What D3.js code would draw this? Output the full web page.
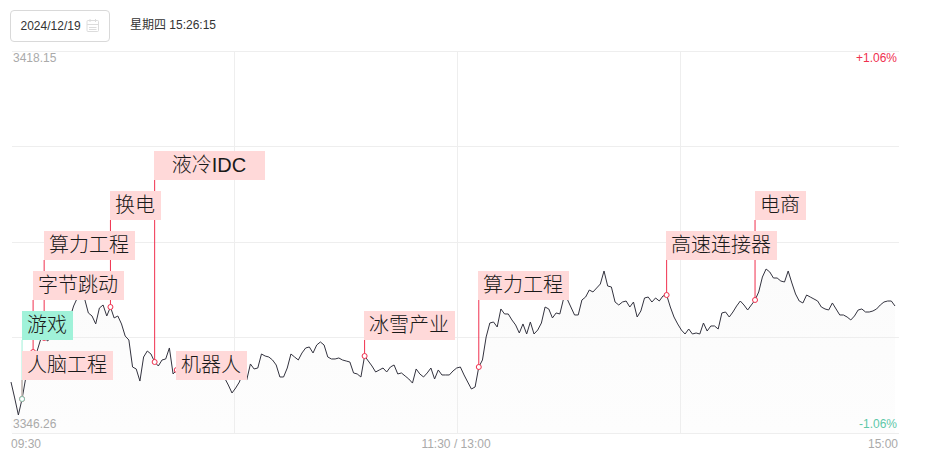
<!DOCTYPE html>
<html>
<head>
<meta charset="utf-8">
<script src="https://cdn.jsdelivr.net/npm/d3@7"></script>
<style>
html,body{margin:0;padding:0;background:#fff;overflow:hidden}
svg{display:block}
text{font-family:"Liberation Sans",Arial,"Noto Sans CJK SC",sans-serif}
</style>
</head>
<body>
<svg id="c" width="926" height="470"></svg>
<script>
const prices = [
3355.85,3352.85,3349.65,3352.66,3356.61,3359.62,3361.50,3361.50,3363.76,3364.14,
3363.57,3365.26,3364.70,3366.02,3366.59,3367.15,3367.91,3370.16,3371.67,3371.67,
3371.48,3368.85,3368.28,3366.78,3369.78,3370.35,3368.28,3369.97,3367.91,3368.28,
3366.78,3364.51,3363.76,3358.68,3358.31,3356.04,3360.56,3361.69,3361.13,3359.62,
3358.87,3360.00,3360.19,3362.26,3357.37,3358.12,3358.87,3359.62,3360.00,3360.38,
3359.81,3360.38,3359.62,3359.06,3359.25,3359.62,3358.87,3358.12,3356.61,3355.29,
3353.79,3354.73,3355.85,3357.74,3356.23,3359.25,3358.31,3358.49,3361.13,3360.75,
3360.56,3360.00,3359.06,3356.80,3356.80,3358.49,3361.13,3360.56,3360.00,3361.32,
3362.26,3362.45,3361.32,3362.82,3363.39,3362.82,3360.56,3360.19,3360.19,3360.38,
3360.00,3359.81,3359.62,3357.56,3357.37,3356.80,3360.75,3359.81,3358.87,3357.74,
3358.12,3358.49,3357.74,3358.68,3359.06,3357.37,3357.56,3356.99,3356.42,3355.66,
3358.31,3357.37,3356.80,3357.56,3358.49,3356.42,3358.12,3357.18,3357.18,3357.18,
3357.93,3358.49,3358.68,3357.18,3355.85,3354.54,3354.92,3358.68,3360.00,3364.33,
3366.96,3367.15,3366.21,3369.60,3368.66,3368.66,3367.53,3366.59,3365.08,3366.78,
3364.89,3367.15,3364.89,3365.64,3366.96,3369.97,3369.60,3367.91,3368.85,3368.66,
3371.48,3371.48,3369.97,3368.47,3368.47,3371.29,3371.85,3373.17,3372.80,3373.55,
3374.30,3376.75,3373.92,3373.74,3370.91,3370.35,3370.91,3371.10,3369.97,3370.91,
3368.09,3369.22,3371.67,3371.85,3370.91,3371.67,3371.10,3372.04,3372.23,3369.97,
3368.09,3366.78,3365.64,3364.89,3365.83,3364.89,3365.08,3364.89,3366.96,3365.45,
3366.40,3366.40,3365.83,3368.85,3369.03,3368.09,3369.03,3370.16,3371.10,3370.35,
3369.41,3370.35,3371.29,3372.80,3375.61,3377.12,3376.56,3375.43,3375.43,3374.86,
3374.68,3376.75,3374.49,3372.42,3371.10,3370.73,3372.23,3371.85,3371.48,3371.10,
3369.97,3369.60,3369.41,3370.73,3369.60,3368.47,3368.47,3368.09,3367.53,3368.28,
3369.41,3369.60,3369.03,3369.03,3369.22,3369.60,3370.35,3370.91,3371.10,3371.10,
3370.16];
const priceTicks = [3418.15, 3400.17, 3382.2, 3364.23, 3346.26];
const sessionTicks = [60, 120, 180];
const timeLabels = ["09:30", "11:30 / 13:00", "15:00"];
const eventNames = ["人脑工程","游戏","字节跳动","算力工程","换电","液冷IDC","机器人","冰雪产业","算力工程","高速连接器","电商"];
const eventIndex = [3,3,6,9,27,39,45,96,127,178,202];
const eventTier  = [0,1,2,3,4,5,0,1,2,3,4];
const eventKind  = ["up","down","up","up","up","up","up","up","up","up","up"];
const eventChars = [4,2,4,4,2,5,3,4,4,5,2];

const svg = d3.select("#c");
const x = d3.scaleLinear().domain([0,240]).range([11,895]);
const xGrid = d3.scaleLinear().domain([0,240]).range([11.5,903.5]);
const y = d3.scaleLinear().domain([3346.26,3418.15]).range([433,51]);
const gridY = d => Math.floor(y(d)+.01)+.5;
const tierBottom = d3.scaleLinear().domain([0,1]).range([380,340]);
const pal = {up:{fill:"#ffd9d9",stem:"#f0304e"},down:{fill:"#a0f2d9",stem:"#a0f0d8"}};

// header
svg.append("rect").attr("x",10.5).attr("y",10.5).attr("width",99).attr("height",31).attr("rx",3.5)
  .attr("fill","#fff").attr("stroke","#d9d9d9");
svg.append("text").attr("x",20.5).attr("y",30).attr("font-size",12).attr("fill","#333").text("2024/12/19");
const ic = svg.append("g").attr("fill","none").attr("stroke","#dcdcdc");
ic.append("rect").attr("x",87).attr("y",20.5).attr("width",11.5).attr("height",11).attr("rx",1);
ic.append("path").attr("d","M87 24.5H98.5M90 19V22M95.5 19V22M89 27.5H96.5M89 29.5H96.5");
svg.append("text").attr("x",130).attr("y",28.5).attr("font-size",12).attr("fill","#333").text("星期四 15:26:15");

// area, then grid over it, then line
const defs = svg.append("defs");
const g = defs.append("linearGradient").attr("id","fade").attr("x1",0).attr("x2",0).attr("y1",0).attr("y2",1);
g.append("stop").attr("offset",0).attr("stop-color","#fbfbfb");
g.append("stop").attr("offset",1).attr("stop-color","#fdfdfd");
svg.append("path").datum(prices)
  .attr("d",d3.area().x((d,i)=>x(i)).y0(y(3346.26)).y1(d=>y(d)))
  .attr("fill","url(#fade)");
svg.append("g").selectAll("line").data(priceTicks).join("line")
  .attr("x1",12).attr("x2",899).attr("y1",gridY).attr("y2",gridY)
  .attr("stroke","#eeeeee");
svg.append("g").selectAll("line").data(sessionTicks).join("line")
  .attr("x1",d=>Math.floor(xGrid(d))+.5).attr("x2",d=>Math.floor(xGrid(d))+.5)
  .attr("y1",y(3418.15)).attr("y2",y(3346.26)).attr("stroke","#eeeeee");
svg.append("path").datum(prices)
  .attr("d",d3.line().x((d,i)=>x(i)).y(d=>y(d)))
  .attr("fill","none").attr("stroke","#33333f").attr("stroke-width",1);

// axis text
const ax = (t,xp,yp,anchor,col)=>svg.append("text").attr("x",xp).attr("y",yp)
  .attr("text-anchor",anchor).attr("font-size",12).attr("fill",col).text(t);
ax(priceTicks[0].toFixed(2),13,62,"start","#aaaaaa");
ax(priceTicks[4].toFixed(2),13,427.5,"start","#aaaaaa");
ax("+1.06%",897,62,"end","#f0304e");
ax("-1.06%",897,427.5,"end","#5ec8a8");
ax(timeLabels[0],11,447.5,"start","#aaaaaa");
ax(timeLabels[1],456,447.5,"middle","#aaaaaa");
ax(timeLabels[2],898,447.5,"end","#aaaaaa");

// events
const ev = eventNames.map((n,k)=>({n,i:eventIndex[k],t:eventTier[k],kind:eventKind[k],w:eventChars[k]*20+11}));
const groups = svg.append("g").selectAll("g").data(ev).join("g");
groups.append("line")
  .attr("x1",d=>x(d.i)).attr("x2",d=>x(d.i))
  .attr("y1",d=>tierBottom(d.t)).attr("y2",d=>y(prices[d.i]))
  .attr("stroke",d=>pal[d.kind].stem).attr("stroke-width",1);
groups.append("circle")
  .attr("cx",d=>x(d.i)).attr("cy",d=>y(prices[d.i])).attr("r",2.5)
  .attr("fill","#fff").attr("stroke",d=>d.kind==="down"?"#7cc8ae":"#f0304e").attr("stroke-width",1);
const labels = svg.append("g").selectAll("g").data([1,2,3,4,5,0,6,7,8,9,10].map(k=>ev[k])).join("g");
labels.append("rect")
  .attr("x",d=>Math.floor(x(d.i))).attr("y",d=>tierBottom(d.t)-29)
  .attr("width",d=>d.w).attr("height",29)
  .attr("fill",d=>pal[d.kind].fill);
labels.append("text")
  .attr("x",d=>Math.floor(x(d.i))+d.w/2-.5).attr("y",d=>tierBottom(d.t)-8.5)
  .attr("text-anchor","middle").attr("font-size",20).attr("fill","#1a1a1a")
  .attr("font-family",'"Noto Sans CJK SC","Noto Sans",sans-serif').attr("font-weight",300)
  .text(d=>d.n);
</script>
</body>
</html>
